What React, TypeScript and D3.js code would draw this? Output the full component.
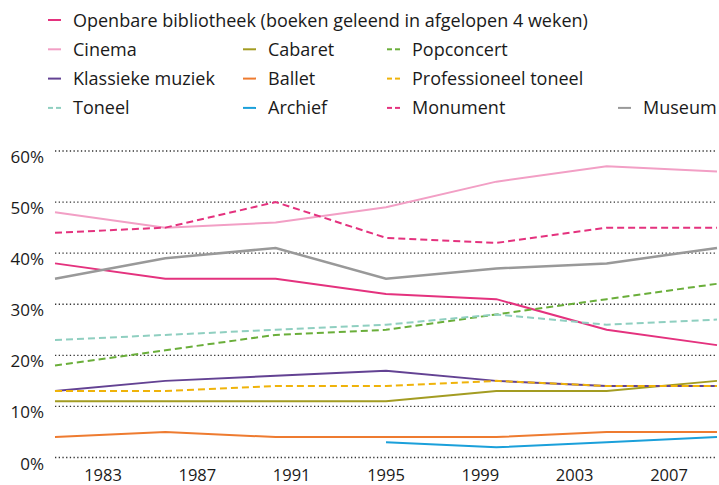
import React from 'react';
import * as d3 from 'd3';

// survey years (7 measurements) and the year labels under the axis
const years = [1983, 1987, 1991, 1995, 1999, 2003, 2007];
const yTicks = [0, 10, 20, 30, 40, 50, 60];

// percentages per series
const bibliotheek = [38, 35, 35, 32, 31, 25, 22];
const cinema = [48, 45, 46, 49, 54, 57, 56];
const cabaret = [11, 11, 11, 11, 13, 13, 15];
const popconcert = [18, 21, 24, 25, 28, 31, 34];
const klassiek = [13, 15, 16, 17, 15, 14, 14];
const ballet = [4, 5, 4, 4, 4, 5, 5];
const profToneel = [13, 13, 14, 14, 15, 14, 14];
const toneel = [23, 24, 25, 26, 28, 26, 27];
const archief = [null, null, null, 3, 2, 3, 4];
const monument = [44, 45, 50, 43, 42, 45, 45];
const museum = [35, 39, 41, 35, 37, 38, 41];

type Series = {name: string; values: (number | null)[]; color: string; dashed: boolean; col: number; row: number};

const series: Series[] = [
  {name: 'Openbare bibliotheek (boeken geleend in afgelopen 4 weken)', values: bibliotheek, color: '#e4327e', dashed: false, col: 0, row: 0},
  {name: 'Cinema', values: cinema, color: '#f29fc5', dashed: false, col: 0, row: 1},
  {name: 'Cabaret', values: cabaret, color: '#a39c22', dashed: false, col: 1, row: 1},
  {name: 'Popconcert', values: popconcert, color: '#6aae3a', dashed: true, col: 2, row: 1},
  {name: 'Klassieke muziek', values: klassiek, color: '#634293', dashed: false, col: 0, row: 2},
  {name: 'Ballet', values: ballet, color: '#ee7b30', dashed: false, col: 1, row: 2},
  {name: 'Professioneel toneel', values: profToneel, color: '#efb30a', dashed: true, col: 2, row: 2},
  {name: 'Toneel', values: toneel, color: '#8fcfc0', dashed: true, col: 0, row: 3},
  {name: 'Archief', values: archief, color: '#1ba0da', dashed: false, col: 1, row: 3},
  {name: 'Monument', values: monument, color: '#e4327e', dashed: true, col: 2, row: 3},
  {name: 'Museum', values: museum, color: '#999999', dashed: false, col: 3, row: 3},
];

export default function App() {
  const w = 719;
  const h = 485;
  const font = '"Open Sans", sans-serif';

  const x = d3.scalePoint<number>().domain(years).range([55, 717]);
  // the year labels sit on their own spacing in the original
  const xLabel = d3.scaleLinear().domain([1983, 2007]).range([103, 669]);
  const y = d3.scaleLinear().domain([0, 60]).range([457.5, 151]);

  const line = d3
    .line<number | null>()
    .defined(d => d != null)
    .x((_, i) => x(years[i]) as number)
    .y(d => y(d as number));

  const legendX = [48, 243, 387, 618];
  const legendY = (r: number) => 20 + r * 29.3;

  return (
    <svg width={w} height={h} style={{position: 'absolute', left: 0, top: 0, background: '#fff'}} fontFamily={font}>
      {/* legend */}
      {series.map(s => {
        const lx = legendX[s.col];
        const ly = legendY(s.row);
        return (
          <g key={s.name}>
            {s.dashed ? (
              <>
                <line x1={lx} x2={lx + 5} y1={ly} y2={ly} stroke={s.color} strokeWidth={2} />
                <line x1={lx + 8} x2={lx + 13} y1={ly} y2={ly} stroke={s.color} strokeWidth={2} />
              </>
            ) : (
              <line x1={lx} x2={lx + 13} y1={ly} y2={ly} stroke={s.color} strokeWidth={2} />
            )}
            <text x={lx + 25} y={ly + 6.5} fontSize={18} fill="#1a1a1a">
              {s.name}
            </text>
          </g>
        );
      })}

      {/* grid + y labels */}
      {yTicks.map(t => (
        <g key={t}>
          <line x1={55} x2={715} y1={y(t)} y2={y(t)} stroke="#333" strokeWidth={1.3} strokeDasharray="1.3 2.4" />
          <text x={44} y={y(t) + 12} fontSize={17} textAnchor="end" fill="#1a1a1a">
            {t}%
          </text>
        </g>
      ))}

      {/* x labels */}
      {years.map(yr => (
        <text key={yr} x={xLabel(yr)} y={481} fontSize={16.5} textAnchor="middle" fill="#1a1a1a">
          {yr}
        </text>
      ))}

      {/* lines */}
      {series.map(s => (
        <path
          key={s.name}
          d={line(s.values) || ''}
          fill="none"
          stroke={s.color}
          strokeWidth={s.name === 'Museum' ? 2.5 : 2}
          strokeDasharray={s.dashed ? '7 4' : undefined}
        />
      ))}
    </svg>
  );
}
